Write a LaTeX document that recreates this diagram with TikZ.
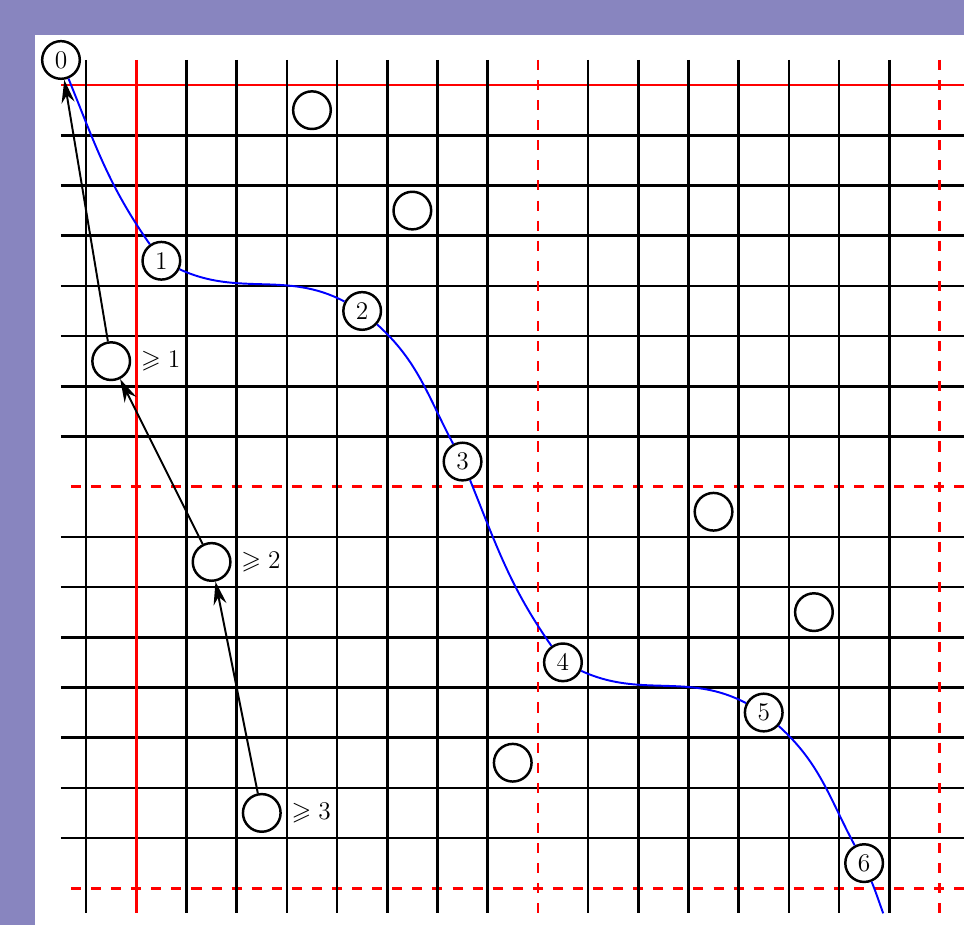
\documentclass[tikz,border=0pt]{standalone}
\usepackage{amsmath,amssymb}
\usetikzlibrary{arrows.meta,positioning}
\definecolor{slidebg}{RGB}{136,133,191}

\begin{document}
\begin{tikzpicture}[
    gridline/.style={line width=1.5pt},
    redline/.style={line width=1.5pt, red},
    reddash/.style={line width=1.5pt, red, dash pattern=on 0.2cm off 0.2cm},
    cell/.style={circle, draw, line width=1.4pt, fill=white, minimum size=0.75cm, inner sep=0pt, font=\Large},
    bound/.style={font=\Large, inner sep=0.3333em},
    arrow/.style={-{Stealth[length=4.6mm, width=2.6mm, inset=1.5mm]}, line width=1.1pt},
    walk/.style={blue, line width=1.1pt}
]

% Frame
\clip (-1.215,1.195) rectangle (17.99,-17.23);
\fill[slidebg] (-1.215,1.195) rectangle (17.99,-17.23);
\fill[white] (-0.52,0.5) rectangle (18.5,-17.5);

% Rows
\foreach \y in {1.5,2.5,3.5,4.5,5.5,6.5,7.5,9.5,10.5,11.5,12.5,13.5,14.5,15.5}
    \draw[gridline] (0,-\y) -- (18.5,-\y);
\draw[redline] (0,-0.5) -- (18.5,-0.5);
\draw[reddash, dash phase=0.2cm] (0,-8.5) -- (18.5,-8.5);
\draw[reddash, dash phase=0.2cm] (0,-16.5) -- (18.5,-16.5);

% Columns
\foreach \x in {0.5,2.5,3.5,4.5,5.5,6.5,7.5,8.5,10.5,11.5,12.5,13.5,14.5,15.5,16.5}
    \draw[gridline] (\x,0) -- (\x,-17);
\draw[redline] (1.5,0) -- (1.5,-17);
\draw[reddash] (9.5,0) -- (9.5,-17);
\draw[reddash] (17.5,0) -- (17.5,-17);

% Numbered cells on the path
\node[cell] (n0) at (0,0) {0};
\node[cell] (n1) at (2,-4) {1};
\node[cell] (n2) at (6,-5) {2};
\node[cell] (n3) at (8,-8) {3};
\node[cell] (n4) at (10,-12) {4};
\node[cell] (n5) at (14,-13) {5};
\node[cell] (n6) at (16,-16) {6};
\coordinate (nend) at (16.38,-17);

\draw[walk] (n0) to[out=-68, in=125] (n1)
    to[out=-25, in=152] (n2)
    to[out=-42, in=118] (n3)
    to[out=-68, in=125] (n4)
    to[out=-25, in=152] (n5)
    to[out=-42, in=118] (n6)
    to[out=-68, in=110] (nend);

% Empty cells
\node[cell] (e1) at (5,-1) {};
\node[cell] (e2) at (7,-3) {};
\node[cell] (e3) at (13,-9) {};
\node[cell] (e4) at (15,-11) {};
\node[cell] (e5) at (9,-14) {};

% Chain of bounds
\node[cell] (a1) at (1,-6) {};
\node[cell] (a2) at (3,-10) {};
\node[cell] (a3) at (4,-15) {};
\node[bound, right=2pt of a1] (b1) {$\geqslant 1$};
\node[bound, right=2pt of a2] (b2) {$\geqslant 2$};
\node[bound, right=2pt of a3] (b3) {$\geqslant 3$};
\draw[arrow] (a3) -- (a2);
\draw[arrow] (a2) -- (a1);
\draw[arrow] (a1) -- (n0);

\end{tikzpicture}
\end{document}
